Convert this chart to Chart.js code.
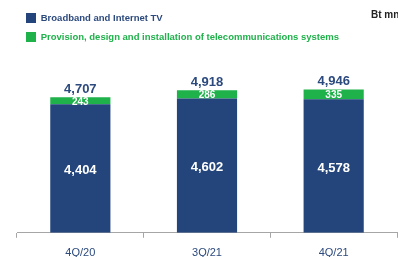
<!DOCTYPE html>
<html>
<head>
<meta charset="utf-8">
<script src="https://cdn.jsdelivr.net/npm/chart.js@4"></script>
<style>
  html, body { margin: 0; padding: 0; background: #fff; }
  #clip { width: 398px; height: 257px; overflow: hidden; }
  #wrap { width: 398px; height: 269px; position: relative; }
</style>
</head>
<body>
<div id="clip"><div id="wrap"><canvas id="c"></canvas></div></div>
<script>
// values
const quarters = ["4Q/20", "3Q/21", "4Q/21"];
const broadband = [4404, 4602, 4578];
const provision = [243, 286, 335];
const totals = [4707, 4918, 4946];

const blue = "#23457b";
const green = "#1fb24b";
const labelBlue = "#2c4a7e";

// draws the value labels and the unit text
const valueLabels = {
  id: "valueLabels",
  afterDatasetsDraw(chart) {
    const ctx = chart.ctx;
    ctx.save();
    ctx.textAlign = "center";
    ctx.textBaseline = "middle";
    const m0 = chart.getDatasetMeta(0);
    const m1 = chart.getDatasetMeta(1);
    for (let i = 0; i < quarters.length; i++) {
      let b = m0.data[i];
      ctx.fillStyle = "#fff";
      ctx.font = "bold 13px 'Liberation Sans', Arial, sans-serif";
      ctx.fillText(broadband[i].toLocaleString("en-US"), b.x, (b.y + b.base) / 2 + 2);
      let g = m1.data[i];
      ctx.font = "bold 10px 'Liberation Sans', Arial, sans-serif";
      ctx.fillText(provision[i], g.x, (g.y + g.base) / 2 + 1);
      ctx.fillStyle = labelBlue;
      ctx.font = "bold 13px 'Liberation Sans', Arial, sans-serif";
      ctx.fillText(totals[i].toLocaleString("en-US"), g.x, g.y - 8);
    }
    ctx.fillStyle = "#222";
    ctx.font = "bold 10px 'Liberation Sans', Arial, sans-serif";
    ctx.textAlign = "left";
    ctx.fillText("Bt mn", 371, 15);
    ctx.restore();
  }
};

new Chart(document.getElementById("c"), {
  type: "bar",
  data: {
    labels: quarters,
    datasets: [
      { label: "Broadband and Internet TV", data: broadband, backgroundColor: blue, barPercentage: 0.95, categoryPercentage: 0.5 },
      { label: "Provision, design and installation of telecommunications systems", data: provision, backgroundColor: green, barPercentage: 0.95, categoryPercentage: 0.5 }
    ]
  },
  options: {
    responsive: true,
    maintainAspectRatio: false,
    animation: false,
    layout: { padding: { left: 17, right: 1, top: 4, bottom: 0 } },
    plugins: {
      tooltip: { enabled: false },
      legend: {
        position: "top",
        align: "start",
        labels: {
          boxWidth: 10,
          boxHeight: 10,
          padding: 9,
          font: { size: 9.5, weight: "bold", family: "'Liberation Sans', Arial, sans-serif" },
          generateLabels(chart) {
            return chart.data.datasets.map((d, i) => ({
              text: d.label,
              fillStyle: d.backgroundColor,
              strokeStyle: d.backgroundColor,
              lineWidth: 0,
              fontColor: i == 0 ? labelBlue : green,
              datasetIndex: i
            }));
          }
        }
      }
    },
    scales: {
      x: {
        stacked: true,
        grid: { offset: true, drawOnChartArea: false, drawTicks: true, tickLength: 5, color: "#a6a6a6" },
        border: { display: true, color: "#a6a6a6" },
        ticks: { color: labelBlue, font: { size: 11, family: "'Liberation Sans', Arial, sans-serif" }, padding: 9 }
      },
      y: {
        stacked: true,
        display: false,
        min: 0,
        max: 6200
      }
    }
  },
  plugins: [valueLabels]
});
</script>
</body>
</html>
